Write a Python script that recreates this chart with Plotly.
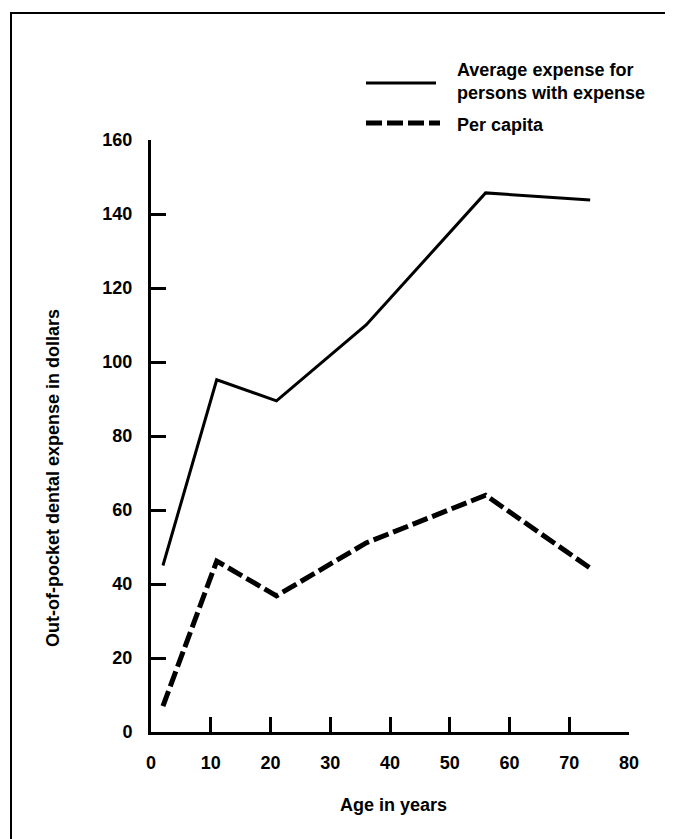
import plotly.graph_objects as go

# ---- data ----
ages = [2, 11, 21, 36, 56, 73.5]
avg_expense_with_expense = [45, 95.2, 89.5, 110, 145.7, 143.8]
per_capita = [7, 46.2, 36.8, 51.1, 64, 44.3]

x_ticks = [0, 10, 20, 30, 40, 50, 60, 70, 80]
y_ticks = [0, 20, 40, 60, 80, 100, 120, 140, 160]

series_names = ["Average expense for<br>persons with expense", "Per capita"]
x_title = "Age in years"
y_title = "Out-of-pocket dental expense in dollars"

FONT = "Liberation Sans, Arial, Helvetica, sans-serif"
W, H = 673, 839
L, R, T, B = 143, 52, 132, 115

def px_x(px):
    return (px - L) / (W - L - R)

def px_y(py):
    return (H - B - py) / (H - T - B)

fig = go.Figure()
fig.add_trace(go.Scatter(x=ages, y=avg_expense_with_expense, mode="lines",
                         name=series_names[0],
                         line=dict(color="black", width=3)))
fig.add_trace(go.Scatter(x=ages, y=per_capita, mode="lines",
                         name=series_names[1],
                         line=dict(color="black", width=5, dash="16px,5px")))

axis_common = dict(showline=True, linewidth=3, linecolor="black",
                   ticks="inside", ticklen=15, tickwidth=3, tickcolor="black",
                   showgrid=False, zeroline=False,
                   tickfont=dict(family=FONT, size=18, color="black", weight="bold"))
fig.update_xaxes(range=[0, 80], tickvals=x_ticks, ticktext=[str(v) for v in x_ticks],
                 ticklabelstandoff=12, **axis_common)
fig.update_yaxes(range=[0, 160], tickvals=y_ticks, ticktext=[str(v) for v in y_ticks],
                 ticklabelstandoff=12, **axis_common)

ann_font = dict(family=FONT, size=18, color="black", weight="bold")
annotations = [
    dict(text=y_title, x=px_x(45), y=px_y(470), xref="paper", yref="paper",
         textangle=-90, showarrow=False, xanchor="center", yanchor="middle",
         font=ann_font),
    dict(text=x_title, x=px_x(385), y=px_y(797), xref="paper", yref="paper",
         showarrow=False, xanchor="center", yanchor="middle", font=ann_font),
    dict(text=series_names[0], x=px_x(447), y=px_y(74), xref="paper", yref="paper",
         showarrow=False, xanchor="left", yanchor="middle", align="left", font=ann_font),
    dict(text=series_names[1], x=px_x(447), y=px_y(117), xref="paper", yref="paper",
         showarrow=False, xanchor="left", yanchor="middle", align="left", font=ann_font),
]

shapes = [
    # legend samples
    dict(type="line", xref="paper", yref="paper", x0=px_x(358), x1=px_x(428),
         y0=px_y(75), y1=px_y(75), line=dict(color="black", width=3)),
    dict(type="line", xref="paper", yref="paper", x0=px_x(358), x1=px_x(432),
         y0=px_y(115), y1=px_y(115), line=dict(color="black", width=5, dash="16px,5px")),
    # frame
    dict(type="line", xref="paper", yref="paper", x0=px_x(2), x1=px_x(673),
         y0=px_y(5), y1=px_y(5), line=dict(color="black", width=2)),
    dict(type="line", xref="paper", yref="paper", x0=px_x(3), x1=px_x(3),
         y0=px_y(5), y1=px_y(836), line=dict(color="black", width=2)),
    dict(type="line", xref="paper", yref="paper", x0=px_x(2), x1=px_x(112),
         y0=px_y(835), y1=px_y(835), line=dict(color="black", width=2)),
    dict(type="line", xref="paper", yref="paper", x0=px_x(155), x1=px_x(285),
         y0=px_y(835), y1=px_y(835), line=dict(color="black", width=2)),
    dict(type="line", xref="paper", yref="paper", x0=px_x(341), x1=px_x(366),
         y0=px_y(835), y1=px_y(835), line=dict(color="black", width=2)),
]

fig.update_layout(width=W, height=H, margin=dict(l=L, r=R, t=T, b=B, pad=0),
                  paper_bgcolor="white", plot_bgcolor="white",
                  showlegend=False, annotations=annotations, shapes=shapes,
                  font=dict(family=FONT, color="black"))

fig.write_html("out.html")
